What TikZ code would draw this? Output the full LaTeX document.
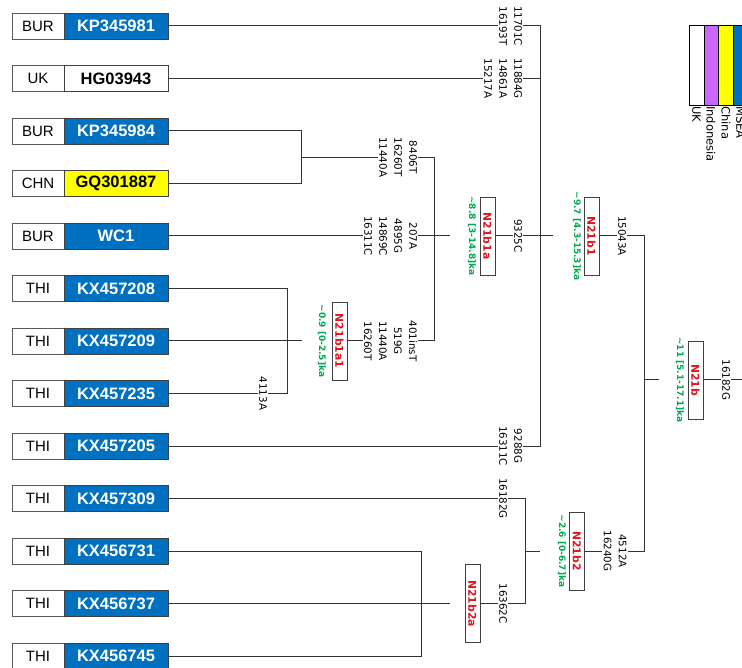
\documentclass[tikz,border=0pt]{standalone}
\usepackage{fontspec}
\setmainfont{DejaVu Sans}
\newfontfamily\arialf{Liberation Sans}
\definecolor{idblue}{RGB}{0,112,192}
\definecolor{idyellow}{RGB}{255,255,0}
\definecolor{legpurple}{RGB}{204,102,255}
\definecolor{agegreen}{RGB}{0,168,80}
\definecolor{cladered}{RGB}{225,20,30}
\begin{document}
\begin{tikzpicture}[x=1pt,y=-1pt,
  cty/.style={draw=black!65, fill=white, minimum width=52, minimum height=26, inner sep=0, line width=0.8, font=\arialf\fontsize{15}{15}\selectfont},
  gid/.style={draw=black!75, minimum width=104, minimum height=26, inner sep=0, line width=0.8, font=\arialf\bfseries\fontsize{16.5}{16.5}\selectfont},
  tree/.style={line width=1, draw=black!80},
  mut/.style={rotate=-90, fill=white, inner sep=1.5pt, align=center, font=\fontsize{10.3}{15}\selectfont},
  age/.style={rotate=-90, text=agegreen, inner sep=0, font=\bfseries\fontsize{9}{9}\selectfont},
  clade/.style={draw=black!75, line width=0.9, fill=white, minimum width=15, minimum height=78, inner sep=0, text=cladered, font=\bfseries\fontsize{10.8}{10.8}\selectfont},
  leg/.style={rotate=-90, anchor=west, inner sep=1pt, font=\fontsize{11.5}{11.5}\selectfont},
  stripe/.style={draw=black, line width=0.9}
]
\useasboundingbox (0,0) rectangle (742,668);
\clip (0,0) rectangle (742,668);
\fill[white] (0,0) rectangle (742,668);

% leaves
\foreach \i/\c/\id/\fc/\tc in {
  1/BUR/KP345981/idblue/white,
  2/UK/HG03943/white/black,
  3/BUR/KP345984/idblue/white,
  4/CHN/GQ301887/idyellow/black,
  5/BUR/WC1/idblue/white,
  6/THI/KX457208/idblue/white,
  7/THI/KX457209/idblue/white,
  8/THI/KX457235/idblue/white,
  9/THI/KX457205/idblue/white,
  10/THI/KX457309/idblue/white,
  11/THI/KX456731/idblue/white,
  12/THI/KX456737/idblue/white,
  13/THI/KX456745/idblue/white}{
  \pgfmathsetmacro\yy{26+52.5*(\i-1)}
  \node[cty] (c\i) at (38,\yy) {\c};
  \node[gid, fill=\fc, text=\tc] (l\i) at (116,\yy) {\id};
}

% internal nodes
\coordinate (A) at (434,236);
\coordinate (B) at (540,236);
\coordinate (C) at (644,380);
\coordinate (D) at (301,157.25);
\coordinate (E) at (287,341);
\coordinate (F) at (525,551);
\coordinate (G) at (421,603.5);
\coordinate (R) at (760,380);
\coordinate (As) at (450,236);
\coordinate (Bs) at (553,236);
\coordinate (Cs) at (659,380);
\coordinate (Es) at (302,341);
\coordinate (Fs) at (540,551);
\coordinate (Gs) at (450,603.5);

% clade boxes
\node[clade] (k1a1) at (339.5,341) {\rotatebox{-90}{N21b1a1}};
\node[clade] (k1a) at (487.5,236) {\rotatebox{-90}{N21b1a}};
\node[clade] (k1) at (591.5,236) {\rotatebox{-90}{N21b1}};
\node[clade] (kb) at (695.5,380) {\rotatebox{-90}{N21b}};
\node[clade] (k2) at (577,551) {\rotatebox{-90}{N21b2}};
\node[clade] (k2a) at (472.5,603.5) {\rotatebox{-90}{N21b2a}};

% ages
\node[age] (g1a1) at (322,341) {\textasciitilde0.9 [0-2.5]ka};
\node[age] (g1a) at (472,236) {\textasciitilde8.8 [3-14.8]ka};
\node[age] (g1) at (577,236) {\textasciitilde9.7 [4.3-15.3]ka};
\node[age] (gb) at (680,380) {\textasciitilde11 [5.1-17.1]ka};
\node[age] (g2) at (562,551) {\textasciitilde2.6 [0-6.7]ka};

% connectors
\draw[tree] (l1.east) -| (B);
\draw[tree] (l2.east) -| (B);
\draw[tree] (l9.east) -| (B);
\draw[tree] (k1a.east) -- (B);
\draw[tree] (B) -- (Bs);
\draw[tree] (l3.east) -| (D);
\draw[tree] (l4.east) -| (D);
\draw[tree] (D) -| (A);
\draw[tree] (l5.east) -- (A);
\draw[tree] (k1a1.east) -| (A);
\draw[tree] (A) -- (As);
\draw[tree] (l6.east) -| (E);
\draw[tree] (l7.east) -- (E);
\draw[tree] (l8.east) -| (E);
\draw[tree] (E) -- (Es);
\draw[tree] (k1.east) -| (C);
\draw[tree] (k2.east) -| (C);
\draw[tree] (C) -- (Cs);
\draw[tree] (kb.east) -- (R);
\draw[tree] (l10.east) -| (F);
\draw[tree] (k2a.east) -| (F);
\draw[tree] (F) -- (Fs);
\draw[tree] (l11.east) -| (G);
\draw[tree] (l12.east) -- (G);
\draw[tree] (l13.east) -| (G);
\draw[tree] (G) -- (Gs);

% mutation labels
\node[mut] (m1) at (510.5,26) {11701C\\16193T};
\node[mut] (m2) at (503,78.5) {11884G\\14861A\\15217A};
\node[mut] (m9) at (510.5,446) {9288G\\16311C};
\node[mut] (mD) at (398,157.25) {8406T\\16260T\\11440A};
\node[mut] (m5) at (390.5,236) {207A\\4895G\\14869C\\16311C};
\node[mut] (mE) at (390.5,341) {401insT\\519G\\11440A\\16260T};
\node[mut] (m8) at (263,393.5) {4113A};
\node[mut] (mA) at (518,236) {9325C};
\node[mut] (mB) at (622,236) {15043A};
\node[mut] (mC) at (726,380) {16182G};
\node[mut] (m10) at (503,498.5) {16182G};
\node[mut] (mG) at (503,603.5) {16362C};
\node[mut] (mF) at (615,551) {4512A\\16240G};

% legend
\filldraw[stripe, fill=white] (689,25) rectangle (704,105);
\filldraw[stripe, fill=legpurple] (704,25) rectangle (718.5,105);
\filldraw[stripe, fill=idyellow] (718.5,25) rectangle (733,105);
\filldraw[stripe, fill=idblue] (733,25) rectangle (748,105);
\node[leg] (lg1) at (696.5,105) {UK};
\node[leg] (lg2) at (711,105) {Indonesia};
\node[leg] (lg3) at (726,105) {China};
\node[leg] (lg4) at (740.5,105) {MSEA};
\end{tikzpicture}
\end{document}
